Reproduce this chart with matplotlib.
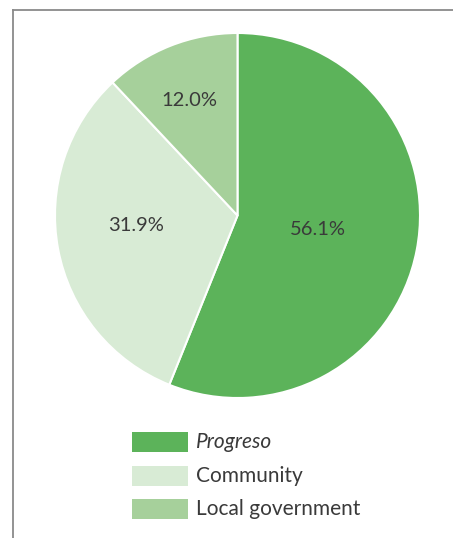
import numpy as np
import matplotlib.pyplot as plt
from matplotlib.lines import Line2D
from matplotlib.patches import Rectangle

# data
categories = ['Progreso', 'Community', 'Local government']
shares = [56.1, 31.9, 12.0]
pct_labels = ['56.1%', '31.9%', '12.0%']
colors = ['#5cb35a', '#d8ebd5', '#a6d09b']

plt.rcParams['font.family'] = ['Lato', 'DejaVu Sans']

fig = plt.figure(figsize=(4.53, 5.38), dpi=100)

# frame lines (top and left) like the report box
fig.add_artist(Line2D([12.5 / 453, 1], [1 - 9.5 / 538, 1 - 9.5 / 538],
                      transform=fig.transFigure, color='#8a8a8a', lw=1.3))
fig.add_artist(Line2D([12.5 / 453, 12.5 / 453], [0, 1 - 9.5 / 538],
                      transform=fig.transFigure, color='#8a8a8a', lw=1.3))

ax = fig.add_axes([55 / 453, (538 - 398) / 538, 365 / 453, 365 / 538])
wedges, _ = ax.pie(shares, colors=colors, startangle=90, counterclock=False,
                   radius=1.0, wedgeprops=dict(edgecolor='white', linewidth=1.5))
ax.set_xlim(-1, 1)
ax.set_ylim(-1, 1)
ax.set_aspect('equal')
ax.axis('off')

# percentage labels placed inside each wedge
label_dist = [0.45, 0.56, 0.685]
label_turn = [1, -5, 1]   # small nudge in degrees
for w, txt, d, t in zip(wedges, pct_labels, label_dist, label_turn):
    mid = np.deg2rad((w.theta1 + w.theta2) / 2 + t)
    ax.text(d * np.cos(mid), d * np.sin(mid), txt, ha='center', va='center',
            fontsize=14.5, color='#3a3a3a')

# legend drawn by hand
y0 = 442
for i, (name, c) in enumerate(zip(categories, colors)):
    yc = y0 + i * 33.7
    fig.add_artist(Rectangle((132 / 453, 1 - (yc + 10) / 538), 56 / 453, 20 / 538,
                             transform=fig.transFigure, facecolor=c, edgecolor='none'))
    fig.text(196 / 453, 1 - yc / 538, name, ha='left', va='center', fontsize=15,
             color='#3a3a3a', style='italic' if i == 0 else 'normal')

fig.savefig('out.png', dpi=100, facecolor='white')
